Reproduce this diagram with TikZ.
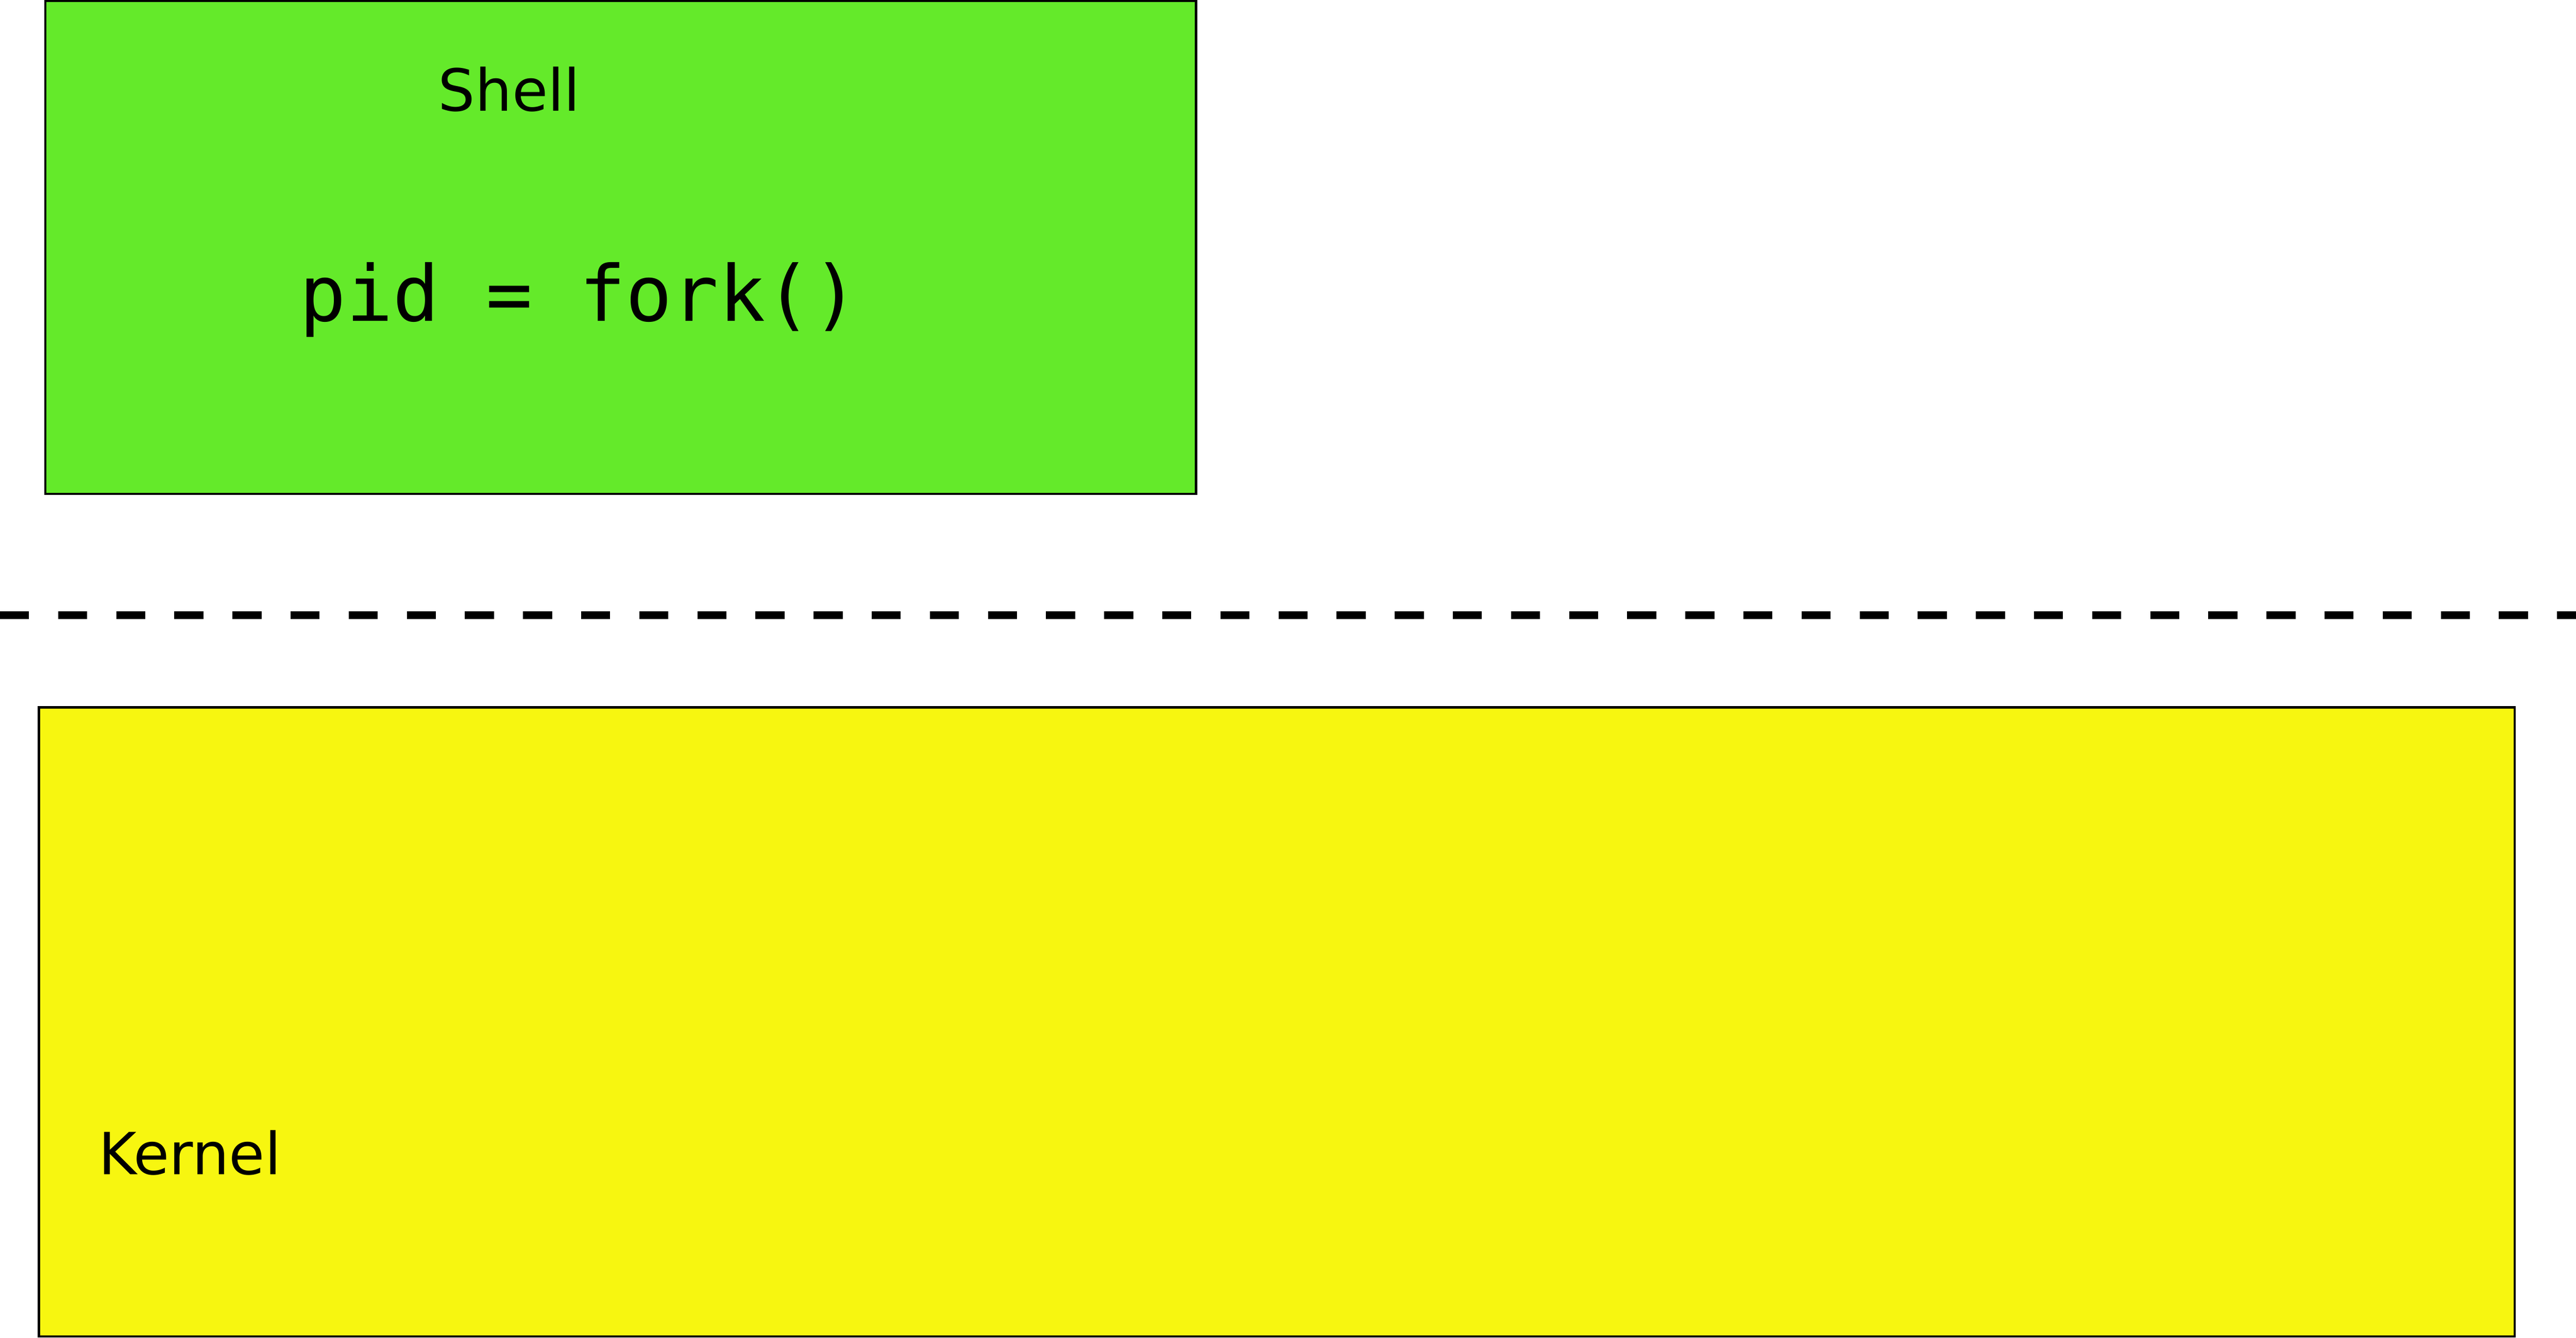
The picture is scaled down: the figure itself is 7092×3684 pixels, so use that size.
\documentclass[tikz,border=0pt]{standalone}
\usepackage{fontspec}
\setmainfont{DejaVu Sans}
\newfontfamily\codefont{DejaVu Sans Mono}
\definecolor{shellgreen}{RGB}{100,234,42}
\definecolor{kernelyellow}{RGB}{247,246,16}
\begin{document}
\begin{tikzpicture}[x=0.1pt,y=-0.1pt,
  boxstyle/.style={draw=black, line width=0.65pt, inner sep=0pt, outer sep=0pt},
  labelstyle/.style={inner sep=0pt, outer sep=0pt, font=\fontsize{16}{19}\selectfont},
  codestyle/.style={inner sep=0pt, outer sep=0pt, font=\codefont\fontsize{21.3}{25}\selectfont},
  divider/.style={line width=2.1pt, dash pattern=on 8pt off 8pt}]
\useasboundingbox (0,0) rectangle (7092,3684);
\node[boxstyle, fill=shellgreen, minimum width=316.85pt, minimum height=135.75pt] (shell) at (1708.75,681.25) {};
\node[boxstyle, fill=kernelyellow, minimum width=681.65pt, minimum height=173.28pt] (kernel) at (3514.75,2814.1) {};
\node[labelstyle, anchor=base west] (shelllabel) at (1207,305) {Shell};
\node[codestyle, anchor=base west] (code) at (825,885) {pid = fork()};
\node[labelstyle, anchor=base west] (kernellabel) at (271,3234) {Kernel};
\coordinate (dl) at (0,1694);
\coordinate (dr) at (7092,1694);
\draw[divider] (dl) -- (dr);
\end{tikzpicture}
\end{document}
